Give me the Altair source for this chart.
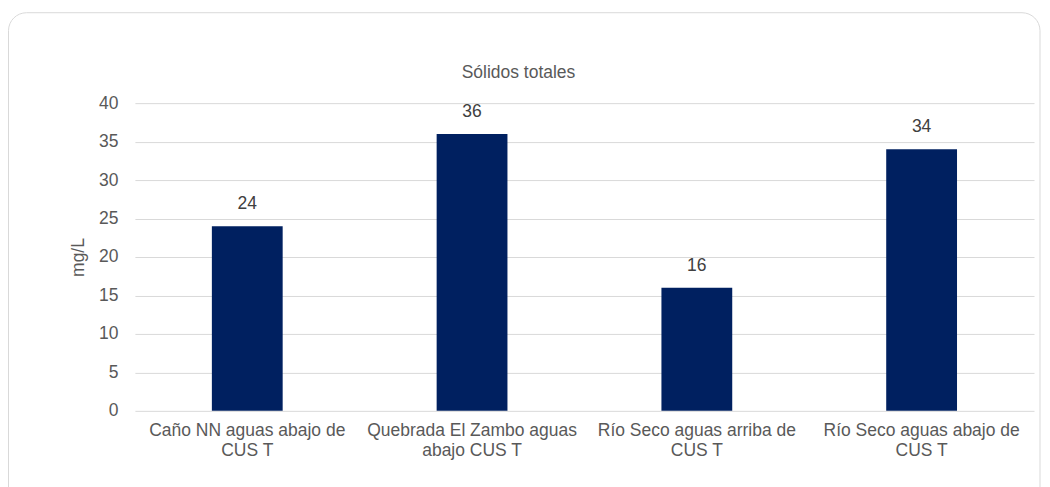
import altair as alt
import pandas as pd

categories = [
    "Caño NN aguas abajo de\nCUS T",
    "Quebrada El Zambo aguas\nabajo CUS T",
    "Río Seco aguas arriba de\nCUS T",
    "Río Seco aguas abajo de\nCUS T",
]
values = [24, 36, 16, 34]
y_ticks = [0, 5, 10, 15, 20, 25, 30, 35, 40]
chart_title = "Sólidos totales"

df = pd.DataFrame({"cat": categories, "val": values})

FONT = "Liberation Sans"
GREY = "#595959"
FS = 17.5

x_enc = alt.X(
    "cat:N",
    sort=categories,
    title=None,
    scale=alt.Scale(paddingInner=0.685, paddingOuter=0.3425),
    axis=alt.Axis(
        labelExpr="split(datum.label, '\\n')",
        labelAngle=0,
        labelFont=FONT,
        labelFontSize=FS,
        labelColor=GREY,
        labelPadding=11,
        labelLineHeight=20,
        labelLimit=300,
        labelOverlap=False,
        domain=False,
        ticks=False,
        grid=False,
    ),
)
y_enc = alt.Y(
    "val:Q",
    title="mg/L",
    scale=alt.Scale(domain=[0, 40], nice=False),
    axis=alt.Axis(
        values=y_ticks,
        labelFont=FONT,
        labelFontSize=FS,
        labelColor=GREY,
        labelPadding=17,
        labelOverlap=False,
        titleFont=FONT,
        titleFontSize=FS,
        titleFontWeight="normal",
        titleColor=GREY,
        titlePadding=11,
        domain=False,
        ticks=False,
        gridColor="#d9d9d9",
        gridWidth=1,
    ),
)

bars = alt.Chart(df).mark_bar(color="#002060").encode(x=x_enc, y=y_enc)
labels = alt.Chart(df).mark_text(
    baseline="bottom", dy=-13, font=FONT, fontSize=FS, color="#404040"
).encode(x=x_enc, y=y_enc, text="val:Q")

border = alt.Chart(alt.Data(values=[{"a": 1}])).mark_rect(
    filled=False, stroke="#d9d9d9", strokeWidth=1, cornerRadius=18
).encode(
    x=alt.value(-126.5), x2=alt.value(906), y=alt.value(-90.5), y2=alt.value(430)
)

title_mark = alt.Chart(alt.Data(values=[{"t": chart_title}])).mark_text(
    font=FONT, fontSize=17.5, color=GREY, align="center", baseline="middle"
).encode(x=alt.value(384), y=alt.value(-30), text="t:N")

chart = (
    alt.layer(border, title_mark, bars, labels)
    .properties(
        width=900,
        height=308,
        background="white",
        autosize=alt.AutoSizeParams(type="none"),
        padding={"left": 127, "top": 95, "right": 8, "bottom": 80},
    )
    .configure_view(stroke="transparent", strokeWidth=0)
)

chart.save("out.html", embed_options={"renderer": "svg", "actions": False})
